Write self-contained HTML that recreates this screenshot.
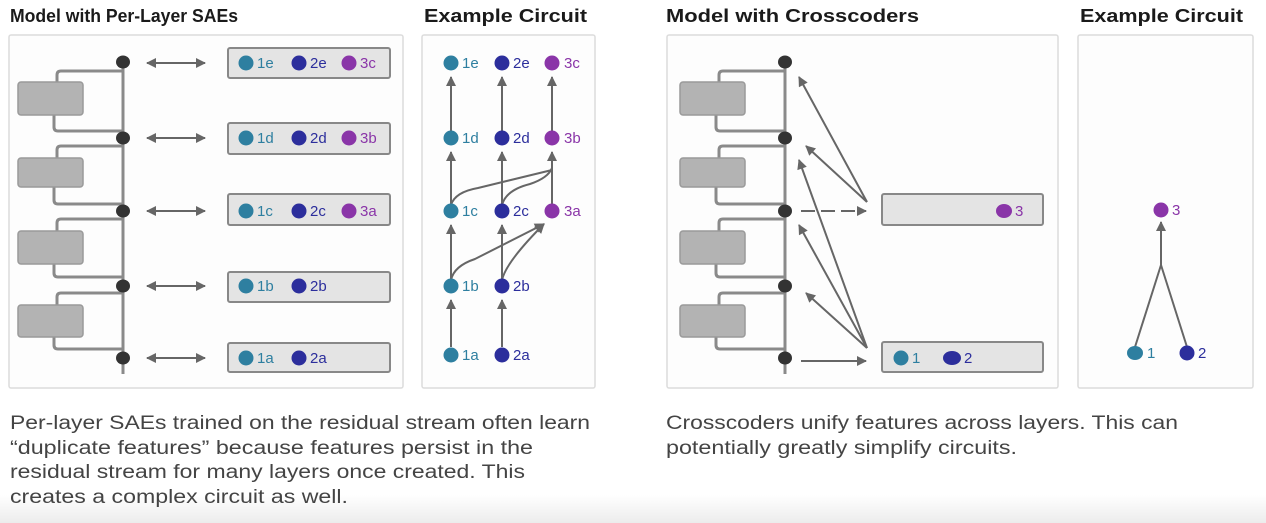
<!DOCTYPE html>
<html><head><meta charset="utf-8"><style>
html,body{margin:0;padding:0;background:#fff;}
svg{display:block;font-family:"Liberation Sans",sans-serif;}
</style></head><body>
<svg width="1266" height="523" viewBox="0 0 1266 523" xmlns="http://www.w3.org/2000/svg">
<defs>
<marker id="ah" viewBox="0 0 10 10" refX="9" refY="5" markerWidth="11" markerHeight="10" markerUnits="userSpaceOnUse" orient="auto-start-reverse"><path d="M0,0 L10,5 L0,10 z" fill="#666"/></marker>
<linearGradient id="bg" x1="0" y1="0" x2="0" y2="1"><stop offset="0" stop-color="#fff"/><stop offset="1" stop-color="#ececec"/></linearGradient>
<g id="model">
<line x1="123" y1="62" x2="123" y2="374" stroke="#8a8a8a" stroke-width="3"/>
<g fill="none" stroke="#8a8a8a" stroke-width="3">
<path d="M57,82 V75 Q57,71 61,71 H123"/><path d="M54,115 V127 Q54,131 58,131 H123"/>
<path d="M57,158 V150 Q57,146 61,146 H123"/><path d="M54,187 V200 Q54,204 58,204 H123"/>
<path d="M57,231 V223 Q57,219 61,219 H123"/><path d="M54,264 V273 Q54,277 58,277 H123"/>
<path d="M57,305 V297 Q57,293 61,293 H123"/><path d="M54,337 V345 Q54,349 58,349 H123"/>
</g>
<g fill="#b3b3b3" stroke="#9a9a9a" stroke-width="1.5">
<rect x="18" y="82" width="65" height="33" rx="3"/><rect x="18" y="158" width="65" height="29" rx="3"/>
<rect x="18" y="231" width="65" height="33" rx="3"/><rect x="18" y="305" width="65" height="32" rx="3"/>
</g>
<g fill="#333"><ellipse cx="123" cy="62" rx="7" ry="6.5"/><ellipse cx="123" cy="138" rx="7" ry="6.5"/><ellipse cx="123" cy="211" rx="7" ry="6.5"/><ellipse cx="123" cy="286" rx="7" ry="6.5"/><ellipse cx="123" cy="358" rx="7" ry="6.5"/></g>
</g>
</defs>
<rect x="0" y="495" width="1266" height="28" fill="url(#bg)"/>

<g font-weight="bold" font-size="18" fill="#1a1a1a">
<text x="10" y="22" textLength="228" lengthAdjust="spacingAndGlyphs">Model with Per-Layer SAEs</text>
<text x="424" y="22" textLength="163" lengthAdjust="spacingAndGlyphs">Example Circuit</text>
<text x="666" y="22" textLength="253" lengthAdjust="spacingAndGlyphs">Model with Crosscoders</text>
<text x="1080" y="22" textLength="163" lengthAdjust="spacingAndGlyphs">Example Circuit</text>
</g>

<g fill="#fdfdfd" stroke="#dcdcdc" stroke-width="1.5">
<rect x="9" y="35" width="394" height="353" rx="2"/>
<rect x="422" y="35" width="173" height="353" rx="2"/>
<rect x="667" y="35" width="391" height="353" rx="2"/>
<rect x="1078" y="35" width="175" height="353" rx="2"/>
</g>

<use href="#model"/>
<g stroke="#666" stroke-width="2" marker-start="url(#ah)" marker-end="url(#ah)">
<line x1="147" y1="63" x2="205" y2="63"/><line x1="147" y1="138" x2="205" y2="138"/><line x1="147" y1="211" x2="205" y2="211"/><line x1="147" y1="286" x2="205" y2="286"/><line x1="147" y1="358" x2="205" y2="358"/>
</g>
<g fill="#e4e4e4" stroke="#888" stroke-width="2">
<rect x="228" y="48" width="162" height="30" rx="2"/><rect x="228" y="123" width="162" height="31" rx="2"/><rect x="228" y="194" width="162" height="31" rx="2"/><rect x="228" y="272" width="162" height="30" rx="2"/><rect x="228" y="343" width="162" height="29" rx="2"/>
</g>
<g font-size="15">
<g fill="#2e7fa0"><circle cx="246" cy="63" r="7.5"/><circle cx="246" cy="138" r="7.5"/><circle cx="246" cy="211" r="7.5"/><circle cx="246" cy="286" r="7.5"/><circle cx="246" cy="358" r="7.5"/>
<text x="257" y="68">1e</text><text x="257" y="143">1d</text><text x="257" y="216">1c</text><text x="257" y="291">1b</text><text x="257" y="363">1a</text></g>
<g fill="#2c2e9c"><circle cx="299" cy="63" r="7.5"/><circle cx="299" cy="138" r="7.5"/><circle cx="299" cy="211" r="7.5"/><circle cx="299" cy="286" r="7.5"/><circle cx="299" cy="358" r="7.5"/>
<text x="310" y="68">2e</text><text x="310" y="143">2d</text><text x="310" y="216">2c</text><text x="310" y="291">2b</text><text x="310" y="363">2a</text></g>
<g fill="#8a35a8"><circle cx="349" cy="63" r="7.5"/><circle cx="349" cy="138" r="7.5"/><circle cx="349" cy="211" r="7.5"/>
<text x="360" y="68">3c</text><text x="360" y="143">3b</text><text x="360" y="216">3a</text></g>
</g>

<g stroke="#666" stroke-width="2" fill="none" marker-end="url(#ah)">
<line x1="451" y1="347" x2="451" y2="300"/><line x1="451" y1="279" x2="451" y2="225"/><line x1="451" y1="204" x2="451" y2="152"/><line x1="451" y1="131" x2="451" y2="77"/>
<line x1="502" y1="347" x2="502" y2="300"/><line x1="502" y1="279" x2="502" y2="225"/><line x1="502" y1="204" x2="502" y2="152"/><line x1="502" y1="131" x2="502" y2="77"/>
<line x1="552" y1="204" x2="552" y2="152"/><line x1="552" y1="131" x2="552" y2="77"/>
<path d="M451,280 Q454,266 475,259 L544,224"/><path d="M502,280 Q506,262 544,224"/>
</g>
<g stroke="#666" stroke-width="2" fill="none">
<path d="M451,205 Q455,192 478,188 L552,170"/><path d="M502,205 Q506,190 530,184 Q548,178 552,168"/>
</g>
<g font-size="15">
<g fill="#2e7fa0"><circle cx="451" cy="63" r="7.5"/><circle cx="451" cy="138" r="7.5"/><circle cx="451" cy="211" r="7.5"/><circle cx="451" cy="286" r="7.5"/><circle cx="451" cy="355" r="7.5"/>
<text x="462" y="68">1e</text><text x="462" y="143">1d</text><text x="462" y="216">1c</text><text x="462" y="291">1b</text><text x="462" y="360">1a</text></g>
<g fill="#2c2e9c"><circle cx="502" cy="63" r="7.5"/><circle cx="502" cy="138" r="7.5"/><circle cx="502" cy="211" r="7.5"/><circle cx="502" cy="286" r="7.5"/><circle cx="502" cy="355" r="7.5"/>
<text x="513" y="68">2e</text><text x="513" y="143">2d</text><text x="513" y="216">2c</text><text x="513" y="291">2b</text><text x="513" y="360">2a</text></g>
<g fill="#8a35a8"><circle cx="552" cy="63" r="7.5"/><circle cx="552" cy="138" r="7.5"/><circle cx="552" cy="211" r="7.5"/>
<text x="564" y="68">3c</text><text x="564" y="143">3b</text><text x="564" y="216">3a</text></g>
</g>

<use href="#model" transform="translate(662,0)"/>
<g stroke="#666" stroke-width="2" fill="none" marker-end="url(#ah)">
<line x1="867" y1="202" x2="799" y2="77"/><line x1="867" y1="202" x2="806" y2="146"/>
<line x1="867" y1="348" x2="799" y2="160"/><line x1="867" y1="348" x2="799" y2="225"/><line x1="867" y1="348" x2="806" y2="293"/>
<line x1="801" y1="211" x2="866" y2="211" stroke-dasharray="14,6"/>
<line x1="801" y1="361" x2="866" y2="361"/>
</g>
<g fill="#e4e4e4" stroke="#888" stroke-width="2">
<rect x="882" y="194" width="161" height="31" rx="2"/><rect x="882" y="342" width="161" height="30" rx="2"/>
</g>
<g font-size="15">
<ellipse cx="1004" cy="211" rx="8" ry="7" fill="#8a35a8"/><text x="1015" y="216" fill="#8a35a8">3</text>
<circle cx="901" cy="358" r="7.5" fill="#2e7fa0"/><text x="912" y="363" fill="#2e7fa0">1</text>
<ellipse cx="952" cy="358" rx="9" ry="7" fill="#2c2e9c"/><text x="964" y="363" fill="#2c2e9c">2</text>
</g>

<g stroke="#666" stroke-width="2" fill="none">
<path d="M1135,347 L1161,265 L1187,347"/>
<line x1="1161" y1="266" x2="1161" y2="222" marker-end="url(#ah)"/>
</g>
<g font-size="15">
<circle cx="1161" cy="210" r="7.5" fill="#8a35a8"/><text x="1172" y="215" fill="#8a35a8">3</text>
<ellipse cx="1135" cy="353" rx="8" ry="7" fill="#2e7fa0"/><text x="1147" y="358" fill="#2e7fa0">1</text>
<circle cx="1187" cy="353" r="7.5" fill="#2c2e9c"/><text x="1198" y="358" fill="#2c2e9c">2</text>
</g>

<g font-size="19" fill="#444">
<text x="10" y="429" textLength="580" lengthAdjust="spacingAndGlyphs">Per-layer SAEs trained on the residual stream often learn</text>
<text x="10" y="454" textLength="523" lengthAdjust="spacingAndGlyphs">“duplicate features” because features persist in the</text>
<text x="10" y="478" textLength="515" lengthAdjust="spacingAndGlyphs">residual stream for many layers once created. This</text>
<text x="10" y="503" textLength="338" lengthAdjust="spacingAndGlyphs">creates a complex circuit as well.</text>
<text x="666" y="429" textLength="512" lengthAdjust="spacingAndGlyphs">Crosscoders unify features across layers. This can</text>
<text x="666" y="454" textLength="351" lengthAdjust="spacingAndGlyphs">potentially greatly simplify circuits.</text>
</g>
</svg>
</body></html>
